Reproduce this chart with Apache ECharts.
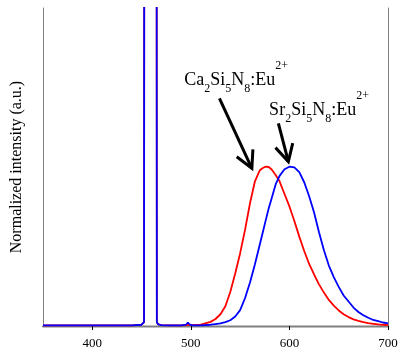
<!DOCTYPE html>
<html>
<head>
<meta charset="utf-8">
<style>
  html, body { margin: 0; padding: 0; background: #fff; }
  #chart { width: 398px; height: 351px; }
</style>
<script src="https://cdn.jsdelivr.net/npm/echarts@6/dist/echarts.min.js"></script>
</head>
<body>
<div id="chart"></div>
<script>
// wavelength (nm)
const wavelength = [350, 400, 440, 450, 452.5, 453.4, 459, 464.6, 465.5, 467, 470, 480, 490,
  495, 497, 499, 502, 510, 520, 525, 530, 535, 540, 545, 550, 555, 560, 565, 570, 573, 576, 579, 582, 586,
  590, 595, 600, 605, 610, 615, 620, 625, 630, 635, 640, 645, 650, 655, 660, 665, 670, 675, 680, 685,
  690, 695, 700];
// Ca2Si5N8:Eu2+ (red)
const caIntensity = [0.002, 0.002, 0.002, 0.004, 0.012, 5, 5, 5, 0.012, 0.005, 0.003, 0.002, 0.002,
  0.003, 0.006, 0.004, 0.003, 0.004, 0.013, 0.022, 0.037, 0.062, 0.107, 0.165, 0.229, 0.303, 0.386, 0.455, 0.49, 0.497, 0.501, 0.5, 0.492, 0.475,
  0.455, 0.415, 0.376, 0.33, 0.281, 0.236, 0.195, 0.162, 0.131, 0.105, 0.082, 0.064, 0.049, 0.037, 0.028, 0.021, 0.016, 0.012, 0.009, 0.007,
  0.005, 0.004, 0.003];
// Sr2Si5N8:Eu2+ (blue)
const srIntensity = [0.002, 0.002, 0.002, 0.004, 0.012, 5, 5, 5, 0.012, 0.005, 0.003, 0.002, 0.002,
  0.004, 0.011, 0.004, 0.002, 0.002, 0.004, 0.006, 0.008, 0.012, 0.018, 0.03, 0.05, 0.088, 0.137, 0.194, 0.257, 0.295, 0.333, 0.37, 0.402, 0.445,
  0.472, 0.493, 0.501, 0.499, 0.484, 0.452, 0.408, 0.357, 0.295, 0.238, 0.19, 0.154, 0.123, 0.096, 0.077, 0.058, 0.044, 0.034, 0.026, 0.019,
  0.015, 0.011, 0.008];
const xTicks = [400, 500, 600, 700];

// annotations in data coordinates: [x, y]
const labels = [
  { parts: ['Ca', '2', 'Si', '5', 'N', '8', ':Eu', '2+'], at: [493.3, 0.783] },
  { parts: ['Sr', '2', 'Si', '5', 'N', '8', ':Eu', '2+'], at: [579.4, 0.689] }
];
const arrows = [
  { from: [529.0, 0.716], to: [561.9, 0.496] },
  { from: [588.8, 0.637], to: [598.9, 0.517] }
];

const serif = '"Liberation Serif", "Times New Roman", serif';
const frameColor = '#7f7f7f';

const chart = echarts.init(document.getElementById('chart'));

const pairs = (ys) => wavelength.map((x, i) => [x, ys[i]]);

chart.setOption({
  animation: false,
  grid: { left: 43, right: 10, top: 8, bottom: 25, outerBoundsMode: 'none' },
  xAxis: [
    {
      type: 'value', min: 350, max: 700,
      axisLine: { lineStyle: { color: '#000', width: 1.3 } },
      axisTick: { show: true, length: 4, lineStyle: { color: '#000' }, customValues: xTicks },
      axisLabel: { customValues: xTicks, color: '#000', fontFamily: serif, fontSize: 13, margin: 11 },
      splitLine: { show: false }
    },
    {
      type: 'value', min: 350, max: 700, position: 'top',
      axisLine: { show: true, lineStyle: { color: frameColor, width: 1 } },
      axisTick: { show: false }, axisLabel: { show: false }, splitLine: { show: false }
    }
  ],
  yAxis: [
    {
      type: 'value', min: 0, max: 1,
      name: 'Normalized intensity (a.u.)',
      nameLocation: 'middle', nameGap: 18,
      nameTextStyle: { fontFamily: serif, fontSize: 16, color: '#000' },
      axisLine: { show: true, lineStyle: { color: frameColor, width: 1 } },
      axisTick: { show: false }, axisLabel: { show: false }, splitLine: { show: false }
    },
    {
      type: 'value', min: 0, max: 1, position: 'right',
      axisLine: { show: true, lineStyle: { color: frameColor, width: 1 } },
      axisTick: { show: false }, axisLabel: { show: false }, splitLine: { show: false }
    }
  ],
  series: [
    {
      name: 'Ca2Si5N8:Eu2+', type: 'line', data: pairs(caIntensity),
      showSymbol: false, clip: true, smooth: false,
      lineStyle: { color: '#ff0000', width: 1.8 }
    },
    {
      name: 'Sr2Si5N8:Eu2+', type: 'line', data: pairs(srIntensity),
      showSymbol: false, clip: true, smooth: false,
      lineStyle: { color: '#0000ff', width: 1.8 }
    }
  ]
});

// annotation text + open arrows, placed through the axes
const toPx = (p) => chart.convertToPixel({ xAxisIndex: 0, yAxisIndex: 0 }, p);
const graphics = [];
labels.forEach(l => {
  const p = toPx(l.at);
  const t = l.parts;
  graphics.push({
    type: 'text', x: p[0], y: p[1],
    style: {
      text: `{m|${t[0]}}{s|${t[1]}}{m|${t[2]}}{s|${t[3]}}{m|${t[4]}}{s|${t[5]}}{m|${t[6]}}{p|${t[7]}}`,
      align: 'left', verticalAlign: 'top',
      rich: {
        m: { fontFamily: serif, fontSize: 18, lineHeight: 18, verticalAlign: 'bottom', padding: [0, 0, 6, 0], fill: '#000' },
        s: { fontFamily: serif, fontSize: 12, lineHeight: 12, verticalAlign: 'bottom', fill: '#000' },
        p: { fontFamily: serif, fontSize: 12, lineHeight: 12, verticalAlign: 'bottom', padding: [0, 0, 23, 0], fill: '#000' }
      }
    }
  });
});
arrows.forEach(a => {
  const s = toPx(a.from), e = toPx(a.to);
  const ang = Math.atan2(s[1] - e[1], s[0] - e[0]);
  const len = 19, spread = 28 * Math.PI / 180;
  const arm = (d) => [e[0] + len * Math.cos(ang + d), e[1] + len * Math.sin(ang + d)];
  graphics.push({
    type: 'polyline', shape: { points: [s, e] },
    style: { stroke: '#000', lineWidth: 3, fill: null }
  });
  graphics.push({
    type: 'polyline', shape: { points: [arm(spread), e, arm(-spread)] },
    style: { stroke: '#000', lineWidth: 3, fill: null, lineJoin: 'miter' }
  });
});
chart.setOption({ graphic: graphics });
</script>
</body>
</html>
